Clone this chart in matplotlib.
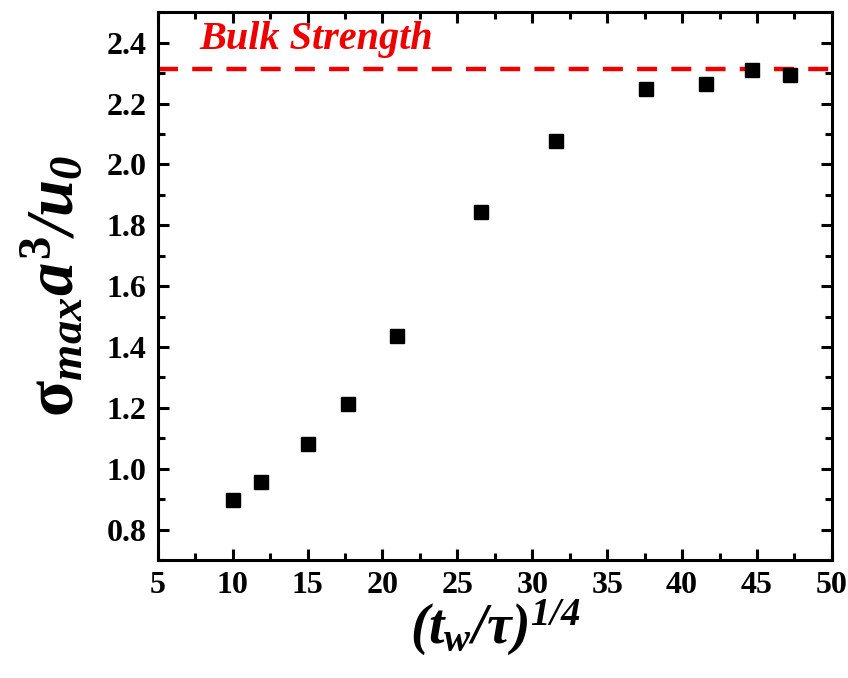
import numpy as np
import matplotlib.pyplot as plt
from matplotlib.ticker import MultipleLocator

plt.rcParams['font.family'] = 'Liberation Serif'
plt.rcParams['font.weight'] = 'bold'
plt.rcParams['mathtext.fontset'] = 'custom'
plt.rcParams['mathtext.rm'] = 'Liberation Serif:italic:bold'
plt.rcParams['mathtext.it'] = 'Liberation Serif:italic:bold'
plt.rcParams['mathtext.bf'] = 'Liberation Serif:bold'
plt.rcParams['mathtext.sf'] = 'Liberation Serif'

# waiting time scaled as (t_w/tau)^(1/4) and peak stress
tw_scaled = [10.0, 11.9, 15.0, 17.7, 21.0, 26.6, 31.6, 37.6, 41.6, 44.7, 47.2]
sigma_max = [0.897, 0.958, 1.080, 1.213, 1.436, 1.843, 2.077, 2.247, 2.265, 2.310, 2.295]
bulk_strength = 2.313

fig = plt.figure(figsize=(8.48, 6.78), dpi=100)
ax = fig.add_axes([0.186, 0.174, 0.795, 0.808])

ax.axhline(bulk_strength, color='#ee0000', lw=3.2, ls=(0, (4.5, 3.2)), zorder=1)
ax.plot(tw_scaled, sigma_max, ls='none', marker='s', ms=10.5, color='black', zorder=2)
ax.text(7.8, 2.41, 'Bulk Strength', color='#ee0000', fontsize=29,
        fontstyle='italic', fontweight='bold', ha='left', va='center')

ax.set_xlim(5, 50)
ax.set_ylim(0.7, 2.5)
ax.xaxis.set_major_locator(MultipleLocator(5))
ax.xaxis.set_minor_locator(MultipleLocator(2.5))
ax.yaxis.set_major_locator(MultipleLocator(0.2))
ax.yaxis.set_minor_locator(MultipleLocator(0.1))
ax.yaxis.set_major_formatter(plt.FormatStrFormatter('%.1f'))

for s in ax.spines.values():
    s.set_linewidth(2.2)
ax.tick_params(which='both', direction='in', top=True, right=True, width=2.2,
               labelsize=23, pad=8)
ax.tick_params(which='major', length=8)
ax.tick_params(which='minor', length=5)

ax.set_xlabel(r'$(t_w/\tau)^{1/4}$', fontsize=40, labelpad=-2)
ax.set_ylabel(r'$\mathsf{\sigma}_{max}a^{\mathsf{3}}/u_{0}$', fontsize=48, labelpad=14)

fig.savefig('out.png', dpi=100)
